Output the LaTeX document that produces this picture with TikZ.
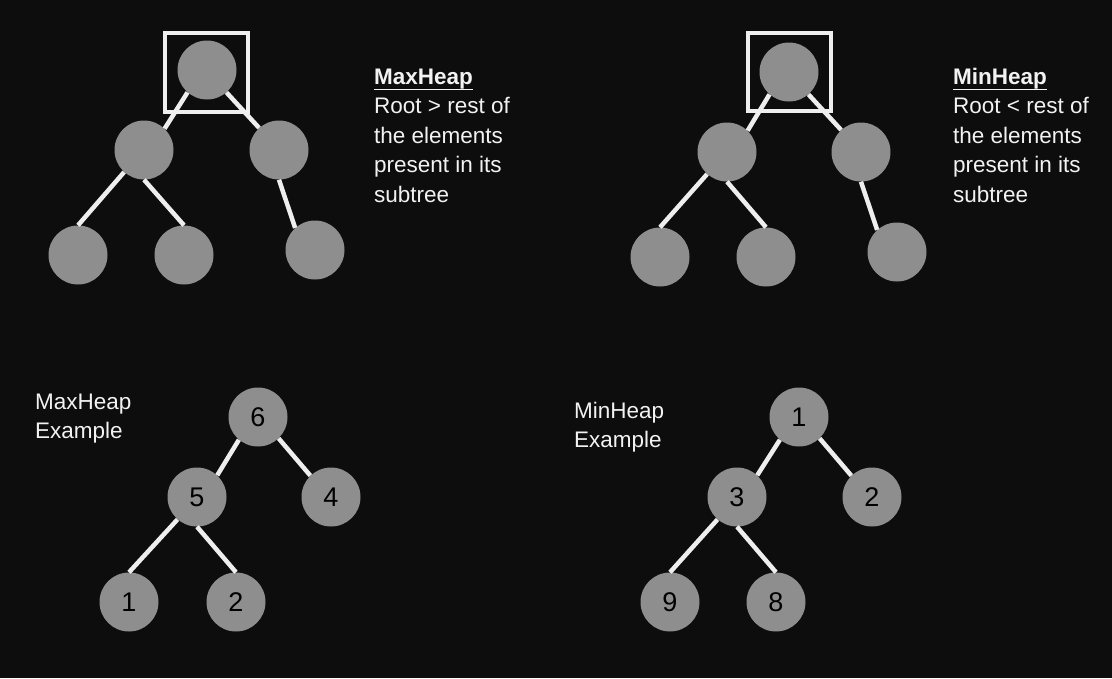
\documentclass[tikz,border=0pt]{standalone}
\usepackage{fontspec}
\setmainfont{Liberation Sans}
\definecolor{bg}{HTML}{0D0D0D}
\definecolor{nodegray}{HTML}{8E8E8E}
\definecolor{edgewhite}{HTML}{EEEEEE}
\definecolor{txt}{HTML}{F2F2F2}
\begin{document}
\begin{tikzpicture}[x=1pt,y=-1pt,
  hnode/.style={circle, fill=nodegray, minimum size=59pt, inner sep=0pt, text=black, font=\fontsize{27}{27}\selectfont},
  conn/.style={draw=edgewhite, line width=4.5pt},
  rootbox/.style={draw=edgewhite, line width=4pt},
  lbl/.style={anchor=base west, inner sep=0pt, text=txt, font=\fontsize{22.5}{26}\selectfont},
  lblb/.style={lbl, font=\fontsize{22.5}{26}\selectfont\bfseries}]
\fill[bg] (0,0) rectangle (1112,678);
\useasboundingbox (0,0) rectangle (1112,678);

% ---------- top-left generic max heap ----------
\node[rootbox, minimum width=83pt, minimum height=79pt, inner sep=0pt] (boxA) at (206.5,72.5) {};
\node[hnode] (a0) at (207,70) {};
\node[hnode] (a1) at (144,150) {};
\node[hnode] (a2) at (279,150) {};
\node[hnode] (a3) at (78,255) {};
\node[hnode] (a4) at (184,255) {};
\node[hnode] (a5) at (315,250) {};
\draw[conn] (a0.229) -- (a1.46);
\draw[conn] (a0.311) -- (a2.132);
\draw[conn] (a1.228) -- (a3.90);
\draw[conn] (a1.270) -- (a4.90);
\draw[conn] (a2.270) -- (a5.132);

\node[lblb] (ta0) at (374,84) {MaxHeap};
\draw[draw=txt, line width=1.6pt] ([yshift=-0.5pt]ta0.south west) -- ([yshift=-0.5pt]ta0.south east);
\node[lbl] (ta1) at (374,113) {Root > rest of};
\node[lbl] (ta2) at (374,143) {the elements};
\node[lbl] (ta3) at (374,172) {present in its};
\node[lbl] (ta4) at (374,202) {subtree};

% ---------- top-right generic min heap ----------
\node[rootbox, minimum width=83pt, minimum height=78pt, inner sep=0pt] (boxB) at (789.5,72) {};
\node[hnode] (b0) at (789,72) {};
\node[hnode] (b1) at (727,152) {};
\node[hnode] (b2) at (861,152) {};
\node[hnode] (b3) at (660,257) {};
\node[hnode] (b4) at (766,257) {};
\node[hnode] (b5) at (897,252) {};
\draw[conn] (b0.229) -- (b1.46);
\draw[conn] (b0.311) -- (b2.132);
\draw[conn] (b1.228) -- (b3.90);
\draw[conn] (b1.270) -- (b4.90);
\draw[conn] (b2.270) -- (b5.132);

\node[lblb] (tb0) at (953,84) {MinHeap};
\draw[draw=txt, line width=1.6pt] ([yshift=-0.5pt]tb0.south west) -- ([yshift=-0.5pt]tb0.south east);
\node[lbl] (tb1) at (953,113) {Root < rest of};
\node[lbl] (tb2) at (953,143) {the elements};
\node[lbl] (tb3) at (953,172) {present in its};
\node[lbl] (tb4) at (953,202) {subtree};

% ---------- bottom-left max heap example ----------
\node[hnode] (c6) at (258,417) {6};
\node[hnode] (c5) at (197,497) {5};
\node[hnode] (c4) at (331,497) {4};
\node[hnode] (c1) at (129,602) {1};
\node[hnode] (c2) at (236,602) {2};
\draw[conn] (c6.230) -- (c5.47);
\draw[conn] (c6.314) -- (c4.134);
\draw[conn] (c5.229) -- (c1.90);
\draw[conn] (c5.270) -- (c2.90);

\node[lbl] (tc0) at (35,409) {MaxHeap};
\node[lbl] (tc1) at (35,438) {Example};

% ---------- bottom-right min heap example ----------
\node[hnode] (d1) at (799,417) {1};
\node[hnode] (d3) at (737,497) {3};
\node[hnode] (d2) at (872,497) {2};
\node[hnode] (d9) at (670,602) {9};
\node[hnode] (d8) at (776,602) {8};
\draw[conn] (d1.230) -- (d3.47);
\draw[conn] (d1.314) -- (d2.134);
\draw[conn] (d3.229) -- (d9.90);
\draw[conn] (d3.270) -- (d8.90);

\node[lbl] (td0) at (574,418) {MinHeap};
\node[lbl] (td1) at (574,447) {Example};
\end{tikzpicture}
\end{document}
